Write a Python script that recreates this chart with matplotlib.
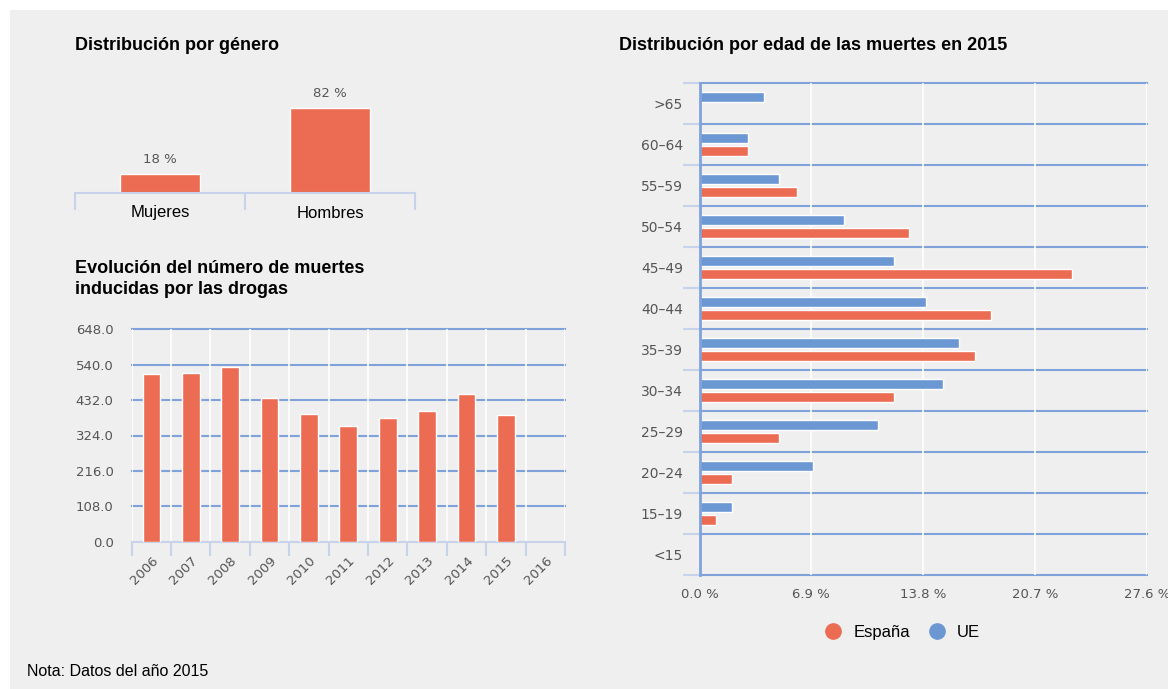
import numpy as np
import matplotlib
matplotlib.use('Agg')
import matplotlib.pyplot as plt
from matplotlib.patches import Rectangle
from matplotlib.lines import Line2D

# data
genero = ['Mujeres', 'Hombres']
genero_pct = [18, 82]

years = ['2006', '2007', '2008', '2009', '2010', '2011',
         '2012', '2013', '2014', '2015', '2016']
deaths = [512, 516, 534, 438, 390, 354, 378, 400, 450, 386, np.nan]

age_groups = ['<15', '15–19', '20–24', '25–29', '30–34', '35–39',
              '40–44', '45–49', '50–54', '55–59', '60–64', '>65']
espana = [0, 1, 2, 4.9, 12, 17, 18, 23, 12.9, 6, 3, 0]
ue = [0, 2, 7, 11, 15, 16, 14, 12, 8.9, 4.9, 3, 4]

ORANGE = '#eb6c52'
BLUE = '#6b97d2'
GRID = '#7fa2db'
LIGHT = '#c6d3ea'
TXT = '#555555'
BG = '#efefef'

W, H = 1168, 689
title_font = {'family': 'Liberation Sans', 'size': 13, 'weight': 'bold'}
label_font = {'family': 'Liberation Sans', 'size': 12}
tick_font = 'DejaVu Sans'


def px_axes(fig, x0, y0, x1, y1):
    # pixel box (top-left origin) -> figure axes
    return fig.add_axes([x0 / W, 1 - y1 / H, (x1 - x0) / W, (y1 - y0) / H])


fig = plt.figure(figsize=(W / 100, H / 100), dpi=100, facecolor='white')
fig.patches.append(Rectangle((10 / W, 0), 1, 1 - 10 / H, transform=fig.transFigure,
                             facecolor=BG, edgecolor='none', zorder=-10))

# ---- Distribución por género
ax1 = px_axes(fig, 75, 83, 415, 193)
ax1.set_facecolor('none')
x1 = np.arange(len(genero))
ax1.bar(x1, genero_pct, width=0.47, color=ORANGE, edgecolor='white', linewidth=1)
for xi, v in zip(x1, genero_pct):
    ax1.annotate(f'{v} %', (xi, v), xytext=(0, 6), textcoords='offset points',
                 ha='center', va='bottom', color=TXT, fontsize=9.5, family=tick_font)
ax1.set_xlim(-0.5, 1.5)
ax1.set_ylim(0, 106)
for s in ['top', 'right', 'left']:
    ax1.spines[s].set_visible(False)
ax1.spines['bottom'].set_color(LIGHT)
ax1.spines['bottom'].set_linewidth(1.5)
ax1.set_yticks([])
ax1.set_xticks(x1)
ax1.set_xticklabels(genero, fontdict=label_font)
ax1.tick_params(axis='x', length=0, pad=9)
ax1.set_xticks([-0.5, 0.5, 1.5], minor=True)
ax1.tick_params(axis='x', which='minor', length=12, color=LIGHT, width=1.5)

fig.text(75 / W, 1 - 46 / H, 'Distribución por género', va='center', **title_font)

# ---- Evolución del número de muertes
ax2 = px_axes(fig, 131.7, 329.3, 565, 541.7)
ax2.set_facecolor('none')
x2 = np.arange(len(years))
ax2.bar(x2, deaths, width=0.45, color=ORANGE, edgecolor='white', linewidth=1, zorder=3)
ax2.set_xlim(-0.5, len(years) - 0.5)
ax2.set_ylim(0, 648)
yt = np.arange(0, 649, 108)
ax2.set_yticks(yt)
ax2.set_yticklabels([f'{v:.1f}' for v in yt], color=TXT, fontsize=9.5, family=tick_font)
ax2.tick_params(axis='y', length=0, pad=13)
for v in yt[1:]:
    ax2.axhline(v, color=GRID, lw=1.5, zorder=1, clip_on=False)
for s in ['top', 'right', 'left']:
    ax2.spines[s].set_visible(False)
ax2.spines['bottom'].set_color(LIGHT)
ax2.spines['bottom'].set_linewidth(1.5)
ax2.set_xticks(x2)
ax2.set_xticklabels(years, rotation=45, ha='right', va='top', rotation_mode='anchor',
                    color=TXT, fontsize=9.5, family=tick_font)
ax2.tick_params(axis='x', length=0, pad=9)
ax2.set_xticks(np.arange(-0.5, len(years)), minor=True)
ax2.tick_params(axis='x', which='minor', length=10, color=LIGHT, width=1.5)
ax2.grid(axis='x', which='minor', color='white', lw=1.2, zorder=0)

fig.text(75 / W, 1 - 279 / H, 'Evolución del número de muertes\ninducidas por las drogas',
         va='center', linespacing=1.3, **title_font)

# ---- Distribución por edad
ax3 = px_axes(fig, 699.6, 83, 1146.7, 575)
ax3.set_facecolor('none')
y3 = np.arange(len(age_groups))
h = 0.245
ax3.barh(y3 + 0.155, ue, height=h, color=BLUE, edgecolor='white', linewidth=1, zorder=3)
ax3.barh(y3 - 0.155, espana, height=h, color=ORANGE, edgecolor='white', linewidth=1, zorder=3)
ax3.set_xlim(0, 27.6)
ax3.set_ylim(-0.5, len(age_groups) - 0.5)
xt = [0, 6.9, 13.8, 20.7, 27.6]
ax3.set_xticks(xt)
ax3.set_xticklabels([f'{v:.1f} %' for v in xt], color=TXT, fontsize=9.5, family=tick_font)
ax3.tick_params(axis='x', length=0, pad=9)
ax3.grid(axis='x', color='white', lw=1.2, zorder=0)
ax3.set_yticks(y3)
ax3.set_yticklabels(age_groups, color=TXT, fontsize=10, family=tick_font)
ax3.tick_params(axis='y', length=0, pad=12)
ax3.set_yticks(np.arange(-0.5, len(age_groups)), minor=True)
ax3.tick_params(axis='y', which='minor', length=12, color=LIGHT, width=1.5)
for v in np.arange(-0.5, len(age_groups)):
    ax3.axhline(v, color=GRID, lw=1.5, zorder=1, clip_on=False)
for s in ['top', 'right', 'bottom']:
    ax3.spines[s].set_visible(False)
ax3.spines['left'].set_color(GRID)
ax3.spines['left'].set_linewidth(2)
ax3.spines['left'].set_zorder(4)

handles = [Line2D([], [], marker='o', ls='none', color=ORANGE, markersize=11, label='España'),
           Line2D([], [], marker='o', ls='none', color=BLUE, markersize=11, label='UE')]
ax3.legend(handles=handles, loc='center', bbox_to_anchor=(0.444, -0.116), ncol=2,
           frameon=False, handletextpad=0.2, columnspacing=0.6,
           prop={'family': 'Liberation Sans', 'size': 12})

fig.text(619 / W, 1 - 46 / H, 'Distribución por edad de las muertes en 2015',
         va='center', **title_font)

fig.text(27 / W, 1 - 671 / H, 'Nota: Datos del año 2015', va='center',
         family='Liberation Sans', size=11.5)

plt.savefig('out.png', dpi=100, facecolor='white')
